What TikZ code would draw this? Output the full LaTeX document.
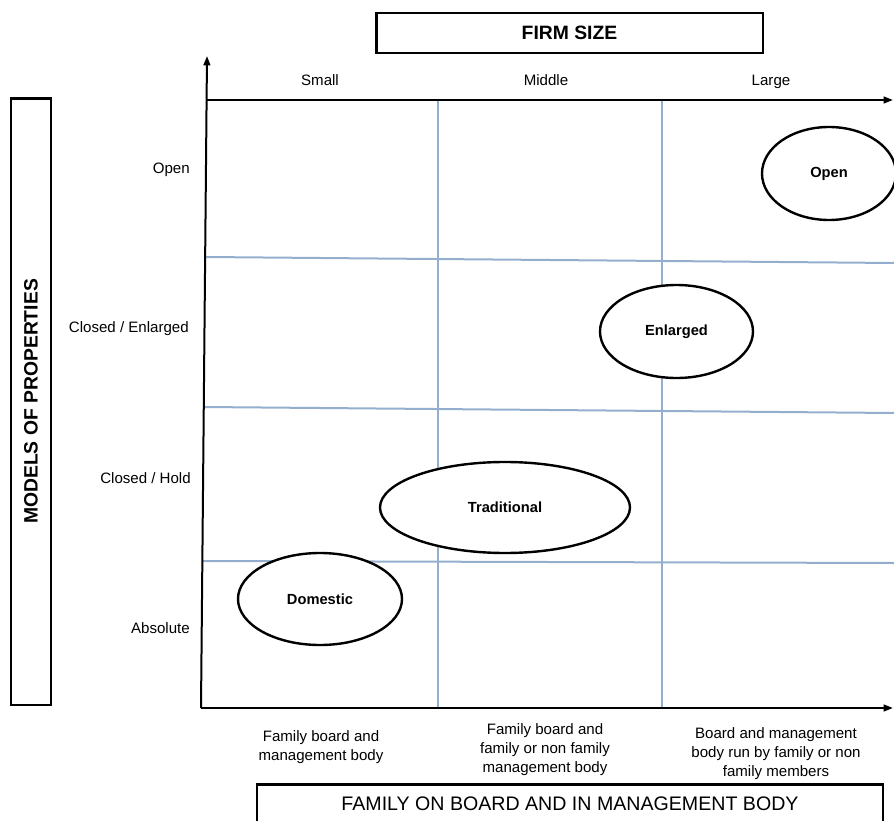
\documentclass[tikz,border=0pt]{standalone}
\usepackage{fontspec}
\setmainfont{Liberation Sans}
\usepackage{tikz}
\usetikzlibrary{positioning,arrows.meta,shapes.geometric}
\definecolor{gridblue}{RGB}{147,175,205}

\begin{document}
\begin{tikzpicture}[
  x=0.75pt, y=-0.75pt,
  >={Triangle[length=7pt,width=5pt]},
  font=\fontsize{11.3}{14.25}\selectfont,
  axis/.style={line width=1.5pt, draw=black},
  gridline/.style={line width=1.5pt, draw=gridblue},
  heading/.style={
    rectangle, draw=black, line width=2pt, inner sep=0pt, fill=white,
    font=\fontsize{14.5}{17}\selectfont\bfseries
  },
  model/.style={
    ellipse, draw=black, line width=1.8pt, inner sep=0pt, fill=white,
    font=\fontsize{11}{13}\selectfont\bfseries
  },
  rowlabel/.style={anchor=base east, inner sep=0pt},
  collabel/.style={anchor=base, inner sep=0pt},
  bottomlabel/.style={anchor=north, align=center, inner sep=0pt}
]

\useasboundingbox (0,0) rectangle (894,821);

% grid of the matrix
\foreach \x in {438,662}
  \draw[gridline] (\x,100) -- (\x,708);
\draw[gridline] (206,257) -- (894,263);
\draw[gridline] (204,407) -- (894,413);
\draw[gridline] (203,561) -- (894,563);

% axes
\coordinate (O) at (201,708);
\coordinate (Ytip) at (207,56);
\coordinate (Tstart) at (206,100);
\coordinate (Ttip) at (893,100);
\coordinate (Xtip) at (893,708);
\draw[axis,->] (O) -- (Ytip);
\draw[axis,->] (Tstart) -- (Ttip);
\draw[axis,->] (O) -- (Xtip);

\node[heading, minimum width=290pt, minimum height=30pt] (firmsize) at (569.5,33) {FIRM SIZE};
\node[heading, rotate=90, minimum width=455pt, minimum height=30pt] (models) at (31,401.5) {MODELS OF PROPERTIES};
\node[heading, anchor=north, minimum width=469.5pt, inner ysep=9pt, text depth=40pt,
  font=\fontsize{14.7}{17}\selectfont] (family) at (570,783) {FAMILY ON BOARD AND IN MANAGEMENT BODY};

\node[collabel] (small) at (320,85) {Small};
\node[collabel] (middle) at (546,85) {Middle};
\node[collabel] (large) at (771,85) {Large};

\node[rowlabel] (open lbl) at (190,173.5) {Open};
\node[rowlabel] (enlarged lbl) at (189,332) {Closed / Enlarged};
\node[rowlabel] (hold lbl) at (191,483.5) {Closed / Hold};
\node[rowlabel] (absolute lbl) at (190,633.5) {Absolute};

\node[bottomlabel] (fam1) at (321,730) {Family board and\\management body};
\node[bottomlabel] (fam2) at (545,723) {Family board and\\family or non family\\management body};
\node[bottomlabel] (fam3) at (776,727) {Board and management\\body run by family or non\\family members};

\node[model, minimum width=100.5pt, minimum height=69.75pt] (open) at (829,173.5) {Open};
\node[model, minimum width=114.75pt, minimum height=69.75pt] (enlarged) at (676.5,331.5) {Enlarged};
\node[model, minimum width=187.5pt, minimum height=68.25pt] (traditional) at (505,507.5) {Traditional};
\node[model, minimum width=123pt, minimum height=69pt] (domestic) at (320,599) {Domestic};

\end{tikzpicture}
\end{document}
